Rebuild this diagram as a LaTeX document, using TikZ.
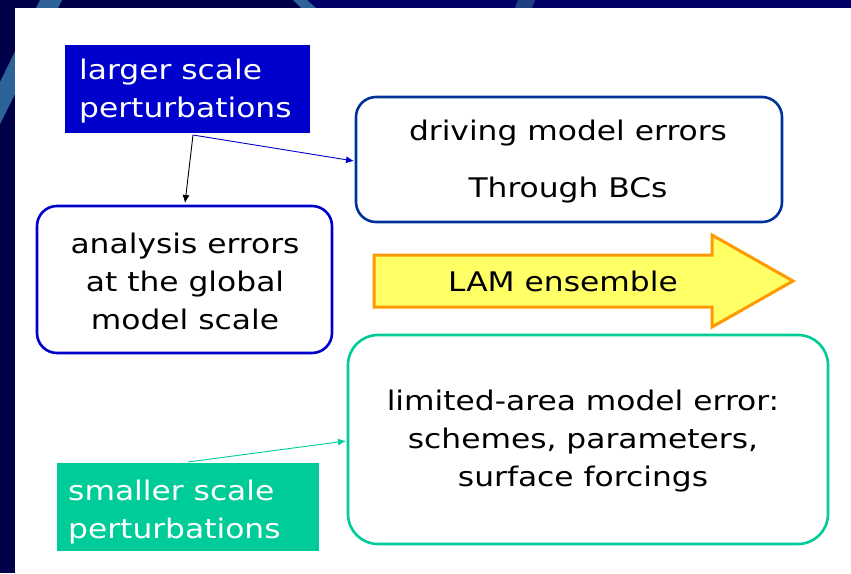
\documentclass[tikz,border=0pt]{standalone}
\usepackage{fontspec}
\setmainfont{DejaVu Sans}[FakeStretch=1.16]
\usetikzlibrary{arrows.meta}
\definecolor{navy}{HTML}{000066}
\definecolor{deepnavy}{HTML}{00004A}
\definecolor{stripe}{HTML}{2E6399}
\definecolor{stripedark}{HTML}{1E3F80}
\definecolor{boxblue}{HTML}{0000CC}
\definecolor{framedblue}{HTML}{003399}
\definecolor{teal}{HTML}{00CC99}
\definecolor{lamfill}{HTML}{FFFF66}
\definecolor{lamedge}{HTML}{FF9900}
\tikzset{
  txt/.style={font=\fontsize{27}{38}\selectfont},
  labelbox/.style={txt, text=white, anchor=west, align=left, inner sep=0pt},
  roundbox/.style={line width=2.6pt, rounded corners=20pt, fill=white},
  boxtext/.style={txt, align=center, inner sep=0pt},
  link/.style={line width=0.9pt, -{Latex[length=8pt,width=7pt]}}
}
\begin{document}
\begin{tikzpicture}[x=1pt,y=-1pt]
  % backdrop
  \fill[navy] (0,0) rectangle (851,573);
  \fill[deepnavy] (0,0) rectangle (168,573);
  \fill[deepnavy] (168,0) rectangle (300,8);
  \fill[stripe] (40,0) -- (62,0) -- (0,124) -- (0,82) -- cycle;
  \fill[stripe] (293,0) -- (307,0) -- (316,8) -- (301,8) -- cycle;
  \fill[stripedark] (518,0) -- (535,0) -- (532,8) -- (515,8) -- cycle;
  \useasboundingbox (0,0) rectangle (851,573);
  % white panel
  \fill[white] (15,8) rectangle (851,573);

  % upper-left label
  \fill[boxblue] (65,45) rectangle (310,133);
  \node[labelbox] (large) at (79,91) {larger scale\\perturbations};
  \coordinate (largefoot) at (193,135);

  % driving model box
  \draw[roundbox, draw=framedblue] (356,97) rectangle (782,222);
  \node[boxtext] (drive1) at (568,133) {driving model errors};
  \node[boxtext] (drive2) at (568,190) {Through BCs};
  \coordinate (drivein) at (354,161);

  % analysis box
  \draw[roundbox, draw=boxblue] (37,206) rectangle (332,353);
  \node[boxtext] (analysis) at (185,281) {analysis errors\\at the global\\model scale};
  \coordinate (analysistop) at (185,203);

  % LAM ensemble arrow
  \draw[lamedge, fill=lamfill, line width=3pt, line join=miter]
    (374,255) -- (712,255) -- (712,235) -- (793,281) -- (712,327) -- (712,307) -- (374,307) -- cycle;
  \node[boxtext] (lam) at (563,281) {LAM ensemble};

  % limited-area box
  \draw[roundbox, draw=teal, rounded corners=30pt] (348,335) rectangle (828,544);
  \node[boxtext] (lim) at (583,441) {limited-area model error:\\schemes, parameters,\\surface forcings};
  \coordinate (limin) at (346,441);

  % lower-left label
  \fill[teal] (57,463) rectangle (319,551);
  \node[labelbox] (small) at (68,512) {smaller scale\\perturbations};
  \coordinate (smalltop) at (188,462);

  % connectors
  \draw[link, black] (largefoot) -- (analysistop);
  \draw[link, boxblue] (largefoot) -- (drivein);
  \draw[link, teal] (smalltop) -- (limin);
\end{tikzpicture}
\end{document}
